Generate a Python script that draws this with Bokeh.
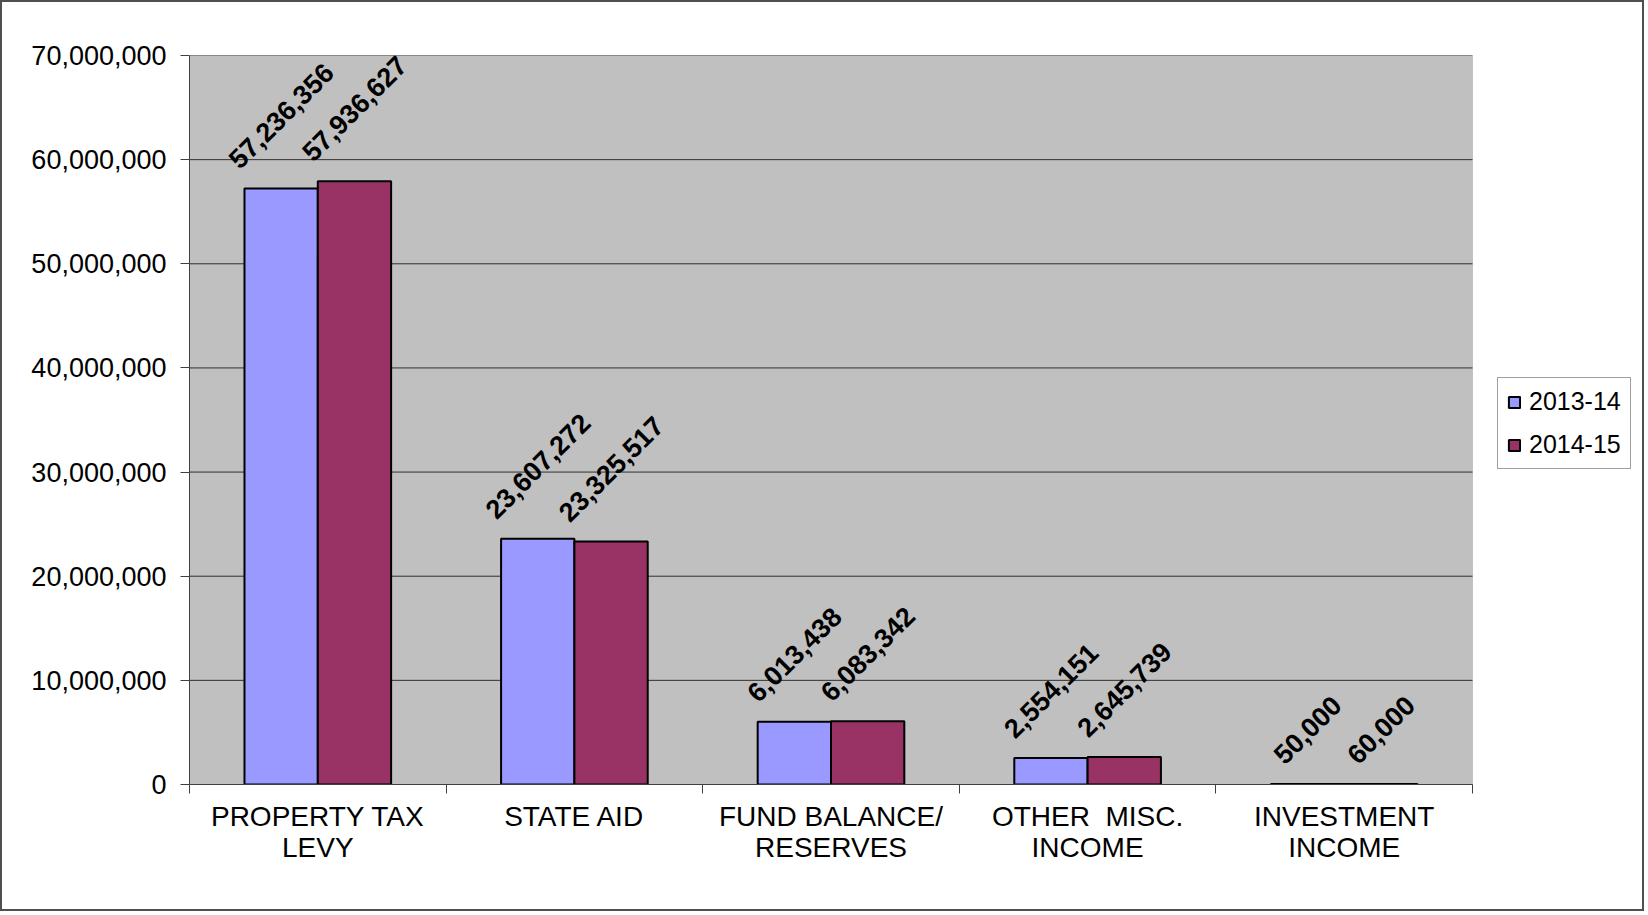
from bokeh.plotting import figure
from bokeh.models import (Range1d, FixedTicker, NumeralTickFormatter, Legend, LegendItem,
                          ColumnDataSource, BoxAnnotation)
from bokeh.core.properties import value
from bokeh.embed import file_html
from bokeh.resources import INLINE

# ---- data ----
categories = ["PROPERTY TAX\nLEVY", "STATE AID", "FUND BALANCE/\nRESERVES",
              "OTHER \u00a0MISC.\nINCOME", "INVESTMENT\nINCOME"]
series_names = ["2013-14", "2014-15"]
values_2013_14 = [57236356, 23607272, 6013438, 2554151, 50000]
values_2014_15 = [57936627, 23325517, 6083342, 2645739, 60000]
y_ticks = [0, 10000000, 20000000, 30000000, 40000000, 50000000, 60000000, 70000000]

# ---- style ----
FONT = "Liberation Sans"
BLUE = "#9999FF"
RED = "#993366"
AXIS = "#404040"
BW = 2                      # outer border width (css)
W, H = 1648 - 2 * BW, 915 - 2 * BW
FL, FT, FB = 187, 53, 782    # frame left / top / bottom (canvas px)
PR = 1470                    # right edge of the grey plot area (canvas px)
FR = W - 6                   # frame right (canvas px)
n = len(categories)
bw = 1 / 3.5
LABEL_FS = 27
GAP = 18
x_end = n * (FR - FL) / (PR - FL)

p = figure(width=W, height=H, output_backend="svg", toolbar_location=None,
           x_range=Range1d(0, x_end), y_range=Range1d(0, y_ticks[-1]),
           min_border_left=FL, min_border_right=W - FR, min_border_top=FT,
           min_border_bottom=H - FB)
p.styles = {"border": f"{BW}px solid #505050"}
p.background_fill_color = "white"
p.border_fill_color = "white"
p.outline_line_color = None

# grey plot area
p.add_layout(BoxAnnotation(left=0, right=n, bottom=0, top=y_ticks[-1],
                           fill_color="#C0C0C0", fill_alpha=1,
                           line_color="#808080", line_width=1, level="underlay"))

# horizontal grid lines restricted to the plot area
p.segment(x0=[0] * len(y_ticks), x1=[n] * len(y_ticks), y0=y_ticks, y1=y_ticks,
          line_color="#303030", line_width=1)


def em_len(s):
    return sum(0.278 if c in ",." else 0.556 for c in s)


def label_offsets(labels):
    out = []
    for s in labels:
        L = em_len(s) * LABEL_FS
        h = 0.72 * LABEL_FS
        ext = (L + h) * 0.7071
        out.append(-(ext / 2 + GAP))
    return out


renderers = []
for k, (vals, col) in enumerate([(values_2013_14, BLUE), (values_2014_15, RED)]):
    xs = [i + 0.5 + (k - 0.5) * bw for i in range(n)]
    labels = [f"{v:,}" for v in vals]
    src = ColumnDataSource(dict(x=xs, top=vals, label=labels, yo=label_offsets(labels)))
    r = p.vbar(x="x", top="top", bottom=0, width=bw, source=src,
               fill_color=col, line_color="black", line_width=2)
    renderers.append(r)
    p.text(x="x", y="top", text="label", source=src, angle=45, angle_units="deg",
           text_align="center", text_baseline="middle", y_offset="yo",
           text_font=value(FONT), text_font_style="bold",
           text_font_size=f"{LABEL_FS}px", text_color="black")

# y axis
p.yaxis.ticker = FixedTicker(ticks=y_ticks, minor_ticks=[])
p.yaxis.formatter = NumeralTickFormatter(format="0,0")
p.yaxis.major_tick_out = 9
p.yaxis.major_tick_in = 0
p.yaxis.major_tick_line_color = AXIS
p.yaxis.minor_tick_line_color = None
p.yaxis.axis_line_color = AXIS
p.yaxis.major_label_standoff = 14
p.yaxis.major_label_text_font = FONT
p.yaxis.major_label_text_font_size = "27px"
p.yaxis.major_label_text_color = "black"

# x axis
centers = [i + 0.5 for i in range(n)]
p.xaxis.bounds = (0, n)
p.xaxis.ticker = FixedTicker(ticks=centers, minor_ticks=list(range(n + 1)))
p.xaxis.major_label_overrides = {c: cat for c, cat in zip(centers, categories)}
p.xaxis.major_tick_line_color = None
p.xaxis.minor_tick_line_color = AXIS
p.xaxis.minor_tick_out = 9
p.xaxis.minor_tick_in = 0
p.xaxis.axis_line_color = AXIS
p.xaxis.major_label_standoff = 7
p.xaxis.major_label_text_font = FONT
p.xaxis.major_label_text_font_size = "28px"
p.xaxis.major_label_text_color = "black"
p.xaxis.major_label_text_line_height = 1.0

# grid off (drawn manually above)
p.xgrid.grid_line_color = None
p.ygrid.grid_line_color = None

LEG_L, LEG_B = 1495, 467   # legend left / bottom (canvas px)
legend = Legend(items=[LegendItem(label=series_names[0], renderers=[renderers[0]]),
                       LegendItem(label=series_names[1], renderers=[renderers[1]])],
                location=(LEG_L - FL, FB - LEG_B))
legend.label_text_font = FONT
legend.label_text_font_size = "25px"
legend.label_text_color = "black"
legend.border_line_color = AXIS
legend.border_line_width = 1
legend.background_fill_color = "white"
legend.background_fill_alpha = 1
legend.glyph_width = 14
legend.glyph_height = 14
legend.label_standoff = 8
legend.padding = 9
legend.spacing = 14
legend.margin = 0
p.add_layout(legend)

open("out.html", "w").write(file_html(p, INLINE))
